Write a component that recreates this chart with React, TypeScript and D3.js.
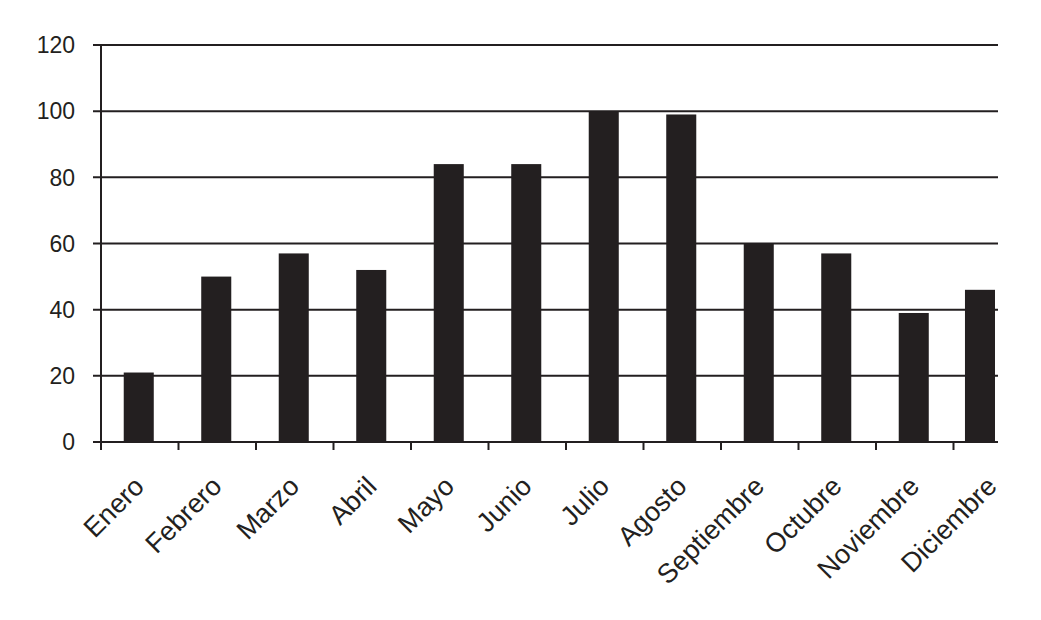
import React from "react";
import * as d3 from "d3";

const months = ["Enero", "Febrero", "Marzo", "Abril", "Mayo", "Junio", "Julio", "Agosto", "Septiembre", "Octubre", "Noviembre", "Diciembre"];
const values = [21, 50, 57, 52, 84, 84, 100, 99, 60, 57, 39, 46];
const yTicks = [0, 20, 40, 60, 80, 100, 120];

const W = 1041, H = 620;
const left = 101, axisRight = 998, top = 45, bottom = 442;
const bandW = 77.5;
const ink = "#231f20";
const font = "'Liberation Sans', Arial, Helvetica, sans-serif";

export default function App() {
  const x = d3.scaleBand<string>().domain(months).range([left, left + bandW * months.length]).paddingInner(0.6125).paddingOuter(0.30625);
  const xb = d3.scaleBand<string>().domain(months).range([left, left + bandW * months.length]);
  const y = d3.scaleLinear().domain([0, 120]).range([bottom, top]);
  const bw = x.bandwidth();
  return (
    <div style={{ position: "absolute", left: 0, top: 0 }}>
      <svg width={W} height={H} style={{ display: "block", background: "#fff" }}>
        {yTicks.map((t) => (
          <g key={t}>
            <line x1={left - 8} x2={axisRight} y1={y(t)} y2={y(t)} stroke={ink} strokeWidth={2} />
            <text x={75} y={y(t)} dy="0.36em" textAnchor="end" fontFamily={font} fontSize={23} fill={ink}>{t}</text>
          </g>
        ))}
        {months.map((m, i) => {
          const bx = Math.min(x(m)!, axisRight - bw - 2);
          return <rect key={m} x={bx - 1} y={y(values[i])} width={bw} height={y(0) - y(values[i])} fill={ink} />;
        })}
        <line x1={left} x2={left} y1={top} y2={bottom + 8} stroke={ink} strokeWidth={2} />
        {months.map((m) => (
          <line key={"t" + m} x1={xb(m)!} x2={xb(m)!} y1={bottom} y2={bottom + 8} stroke={ink} strokeWidth={2} />
        ))}
        {months.map((m) => {
          const cx = xb(m)! + xb.bandwidth() / 2 + 6;
          const cy = 488;
          return (
            <text key={"l" + m} x={cx} y={cy} transform={`rotate(-45 ${cx} ${cy})`} textAnchor="end" fontFamily={font} fontSize={27} fill={ink}>{m}</text>
          );
        })}
      </svg>
    </div>
  );
}
